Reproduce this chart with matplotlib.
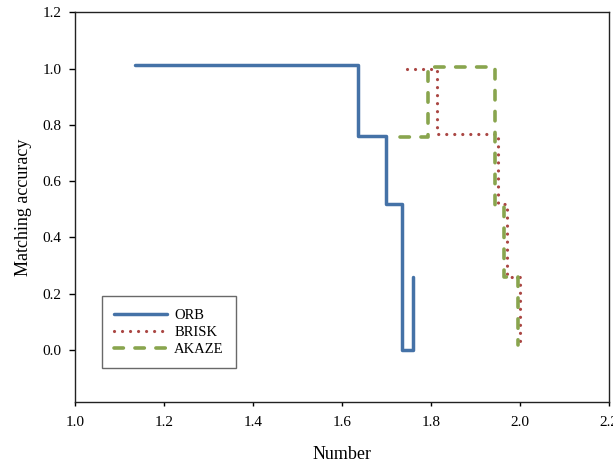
import matplotlib
matplotlib.use("Agg")
import matplotlib.pyplot as plt

# Step curves (x breakpoints, y levels)
orb_x = [1.135, 1.635, 1.698, 1.734, 1.759]
orb_y = [1.012, 0.762, 0.517, 0.0, 0.260]

brisk_x = [1.746, 1.814, 1.951, 1.971, 1.999]
brisk_y = [1.0, 0.766, 0.517, 0.260, 0.022]

akaze_x = [1.731, 1.792, 1.943, 1.963, 1.996]
akaze_y = [0.756, 1.006, 0.515, 0.260, 0.016]

xticks = [1.0, 1.2, 1.4, 1.6, 1.8, 2.0, 2.2]
yticks = [0.0, 0.2, 0.4, 0.6, 0.8, 1.0, 1.2]

plt.rcParams['font.family'] = ['Liberation Serif', 'DejaVu Serif']

fig = plt.figure(figsize=(6.13, 4.65), dpi=100)
ax = fig.add_axes([0.1223, 0.1355, 0.8716, 0.838])

ax.plot(orb_x, orb_y, drawstyle='steps-post', color='#4572A7', lw=2.5,
        solid_capstyle='round', solid_joinstyle='round', label='ORB')
ax.plot(brisk_x, brisk_y, drawstyle='steps-post', color='#AA4643', lw=2.3,
        linestyle=(0, (0.01, 2.5)), dash_capstyle='round', label='BRISK')
ax.plot(akaze_x, akaze_y, drawstyle='steps-post', color='#89A54E', lw=2.6,
        linestyle=(0, (2.6, 3.2)), dash_capstyle='round', label='AKAZE')

ax.set_xlim(1.0, 2.2)
ax.set_ylim(-0.185, 1.2)
ax.set_xticks(xticks)
ax.set_xticklabels([f"{v:.1f}" for v in xticks])
ax.set_yticks(yticks)
ax.set_yticklabels([f"{v:.1f}" for v in yticks])
ax.tick_params(axis='x', direction='out', length=3, width=1, labelsize=11, pad=7,
               top=False)
ax.tick_params(axis='y', direction='out', length=4.5, width=1, labelsize=11, pad=5,
               right=False)
for s in ax.spines.values():
    s.set_linewidth(1.0)
    s.set_color('#222222')

ax.set_xlabel('Number', fontsize=13, labelpad=12)
ax.set_ylabel('Matching accuracy', fontsize=13, labelpad=8)

leg = ax.legend(loc='lower left', bbox_to_anchor=(0.0505, 0.0872), borderaxespad=0,
                fontsize=10.5, handlelength=3.6, labelspacing=0.25,
                fancybox=False, frameon=True, borderpad=0.85, handletextpad=0.5)
leg.get_frame().set_edgecolor('#444444')
leg.get_frame().set_linewidth(1.0)

fig.savefig('out.png', dpi=100)
